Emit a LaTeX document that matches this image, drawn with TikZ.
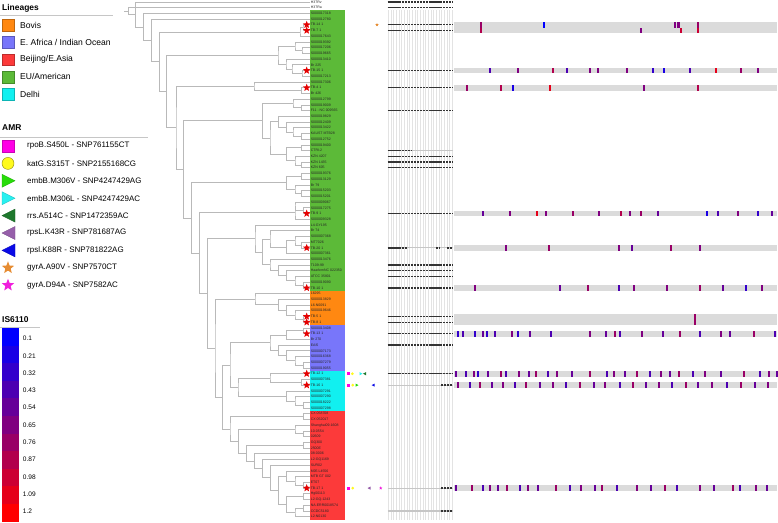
\documentclass[tikz,border=0pt]{standalone}
\usepackage{fontspec}
\setmainfont{Liberation Sans}
\usetikzlibrary{calc,shapes.geometric}

\definecolor{lnBovis}{RGB}{255,136,17}
\definecolor{lnEAfrica}{RGB}{120,118,250}
\definecolor{lnBeijing}{RGB}{252,58,58}
\definecolor{lnEU}{RGB}{92,186,56}
\definecolor{lnDelhi}{RGB}{17,240,240}
\definecolor{amrRpoB}{RGB}{255,0,230}
\definecolor{amrKatG}{RGB}{255,250,30}
\definecolor{amrEmbV}{RGB}{40,220,10}
\definecolor{amrEmbL}{RGB}{40,240,240}
\definecolor{amrRrs}{RGB}{30,120,45}
\definecolor{amrRpsA}{RGB}{150,95,170}
\definecolor{amrRpsB}{RGB}{10,10,230}
\definecolor{amrGyrV}{RGB}{230,140,50}
\definecolor{amrGyrA}{RGB}{240,30,220}
\definecolor{hmbar}{RGB}{219,219,219}

\newcommand{\ry}[1]{1.9+(#1-1)*5.72}
\newcommand{\jn}[4]{%
  \coordinate (mid) at ($(#3)!.5!(#4)$);
  \coordinate (xr) at (#2,0);
  \coordinate (#1) at (mid -| xr);
  \draw[branch] (#3) -| (#1) |- (#4);}
\newcommand{\istick}[3]{\fill[red!#3!blue] ({#1-1.1},{\ry{#2}-2.86}) rectangle ({#1+1.1},{\ry{#2}+2.86});}

\begin{document}
\begin{tikzpicture}[x=0.3mm,y=-0.3mm,
  leaf/.style={anchor=west,inner sep=0.5pt,text=black!85,font=\fontsize{3}{3.5}\selectfont},
  head/.style={anchor=west,inner sep=0pt,font=\bfseries\fontsize{7.2}{8}\selectfont},
  item/.style={anchor=west,inner sep=0pt,font=\fontsize{7.3}{8}\selectfont},
  amritem/.style={anchor=west,inner sep=0pt,font=\fontsize{6.8}{8}\selectfont},
  barlabel/.style={anchor=west,inner sep=0pt,font=\fontsize{5.6}{6}\selectfont},
  rule/.style={draw=gray!45,line width=0.8pt},
  branch/.style={draw=gray!55,line width=0.6pt},
  tbstar/.style={star,star points=5,star point ratio=2.3,fill=red!90!black,inner sep=0pt,minimum size=6.8pt},
  bigstar/.style={star,star points=5,star point ratio=2.3,inner sep=0pt,minimum size=11pt},
  gridcol/.style={draw=gray!22,line width=0.3pt},
  snpbase/.style={draw=gray!45,line width=0.9pt},
  snpmark/.style={draw=black!80,line width=1.1pt,dash pattern=on 1.9pt off 0.6pt}]
\useasboundingbox (0,0) rectangle (778,523);

\node[head] (hLin) at (2,8) {Lineages};
\draw[rule] (0,15) -- (113,15);
\foreach \i/\c/\t in {0/lnBovis/Bovis,1/lnEAfrica/{E. Africa / Indian Ocean},2/lnBeijing/{Beijing/E.Asia},3/lnEU/{EU/American},4/lnDelhi/Delhi}{
  \filldraw[fill=\c,draw=\c!75!black,line width=0.3pt] (2,{25+\i*17.3-5.8}) rectangle (14,{25+\i*17.3+5.8});
  \node[item] (lin\i) at (20,{25+\i*17.3}) {\t};
}

\node[head] (hAmr) at (2,128) {AMR};
\draw[rule] (0,137) -- (148,137);
\filldraw[fill=amrRpoB,draw=amrRpoB!80!black,line width=0.3pt] (2,140) rectangle (14,152);
\filldraw[fill=amrKatG,draw=amrKatG!60!black,line width=0.4pt] (8,163.4) circle (6);
\filldraw[fill=amrEmbV,draw=amrEmbV!80!black,line width=0.3pt] (2,174.3) -- (2,187.3) -- (15,180.8) -- cycle;
\filldraw[fill=amrEmbL,draw=amrEmbL!80!black,line width=0.3pt] (2,191.7) -- (2,204.7) -- (15,198.2) -- cycle;
\filldraw[fill=amrRrs,draw=amrRrs!80!black,line width=0.3pt] (15,209.1) -- (15,222.1) -- (2,215.6) -- cycle;
\filldraw[fill=amrRpsA,draw=amrRpsA!80!black,line width=0.3pt] (15,226.5) -- (15,239.5) -- (2,233) -- cycle;
\filldraw[fill=amrRpsB,draw=amrRpsB!80!black,line width=0.3pt] (15,243.9) -- (15,256.9) -- (2,250.4) -- cycle;
\node[bigstar,fill=amrGyrV] (sV) at (8,267.8) {};
\node[bigstar,fill=amrGyrA] (sA) at (8,285.2) {};
\foreach \k/\t in {0/{rpoB.S450L - SNP761155CT},1/{katG.S315T - SNP2155168CG},2/{embB.M306V - SNP4247429AG},3/{embB.M306L - SNP4247429AC},4/{rrs.A514C - SNP1472359AC},5/{rpsL.K43R - SNP781687AG},6/{rpsl.K88R - SNP781822AG},7/{gyrA.A90V - SNP7570CT},8/{gyrA.D94A - SNP7582AC}}
  \node[amritem] (amr\k) at (27,{146+\k*17.4}) {\t};

\node[head] (hIs) at (2,320) {IS6110};
\draw[rule] (0,327) -- (40,327);
\foreach \k/\v in {0/0.1,1/0.21,2/0.32,3/0.43,4/0.54,5/0.65,6/0.76,7/0.87,8/0.98,9/1.09,10/1.2}{
  \pgfmathtruncatemacro\pc{\k*10}
  \fill[red!\pc!blue] (2,{328+\k*17.61}) rectangle (19.3,{328+(\k+1)*17.61+0.2});
  \node[barlabel] (bar\k) at (22.7,{338.5+\k*17.3}) {\v};
}

\fill[lnEU] (310,{\ry{3}-2.86}) rectangle (345,{\ry{51}+2.86});
\fill[lnBovis] (310,{\ry{52}-2.86}) rectangle (345,{\ry{57}+2.86});
\fill[lnEAfrica] (310,{\ry{58}-2.86}) rectangle (345,{\ry{65}+2.86});
\fill[lnDelhi] (310,{\ry{66}-2.86}) rectangle (345,{\ry{72}+2.86});
\fill[lnBeijing] (310,{\ry{73}-2.86}) rectangle (345,{\ry{91}+2.86});

\foreach \i/\lab in {1/H37Rv,2/H37Ra,3/S000017318,4/S000012780,5/TB-14 1,6/TB-7 1,7/S000017643,8/S000019392,9/S000017206,10/S000019665,
  11/S000013410,12/Br 225,13/TB-15 1,14/S000017213,15/S000017306,16/TB-4 1,17/Br 426,18/S000012799,19/S000019009,20/F11 - NC 009565,
  21/S000019829,22/S000012409,23/S000013422,24/KAUST MTB28,25/S000012752,26/S000019400,27/CTRI-2,28/KZN 4207,29/KZN 1435,30/KZN 605,
  31/S000019376,32/S000013129,33/Br 79,34/S000015203,35/S000015201,36/S000009067,37/S000017275,38/TB-9 1,39/S000009328,40/L4-GY195,
  41/Br 74,42/S000007368,43/MT7026,44/TB-20 1,45/S000007361,46/S000013476,47/T109-99,48/HaarlemNC 022350,49/ATCC 35801,50/S000019090,
  51/TB-10 1,52/16295,53/S000013829,54/L6-N0091,55/S000019646,56/TB-5 1,57/TB-8 1,58/S000013408,59/TB-13 1,60/Br 270,
  61/EAI5,62/S000007173,63/S000016368,64/S000007279,65/S000019055,66/TB-12 1,67/S000007381,68/TB-16 1,69/S000007291,70/S000007290,
  71/S000018222,72/S000007298,73/CX 058708,74/CX 052017,75/Shanghai09-1608,76/10-0554,77/02609,78/GQ300,79/2500E,80/08-0006,
  81/L2-GQ1169,82/SUR02,83/M05 L4556,84/MTB GT 002,85/ET07,86/TB-17 1,87/Hg00113,88/L2-GQ-1243,89/NA-ERR0018574,90/CCDC5180,91/L2-N0130}{
  \coordinate (t\i) at (310,{\ry{\i}});
  \node[leaf] (l\i) at (t\i) {\lab};
}

\jn{c1}{303}{t5}{t6}
\jn{c2}{300}{c1}{t7}
\jn{a1}{302}{t9}{t10}
\jn{a2}{295}{t8}{a1}
\jn{a5}{302}{t13}{t14}
\jn{a6}{292}{t12}{a5}
\jn{a7}{286}{t11}{a6}
\jn{a8}{278}{a2}{a7}
\jn{b1}{301.7}{t16}{t17}
\jn{b2}{254}{t15}{b1}
\jn{k1}{301.7}{t19}{t20}
\jn{k2}{293}{t18}{k1}
\jn{k3}{301.7}{t24}{t25}
\jn{k4}{293}{t23}{k3}
\jn{k5}{286.7}{t22}{k4}
\jn{k6}{278.3}{t21}{k5}
\jn{k7}{301.7}{t26}{t27}
\jn{k8}{301.7}{t29}{t30}
\jn{k9}{295}{t28}{k8}
\jn{k10}{286.7}{k7}{k9}
\jn{k11}{270}{k6}{k10}
\jn{k12}{262.7}{k2}{k11}
\jn{d1}{301.7}{t31}{t32}
\jn{d2}{301.7}{t34}{t35}
\jn{d3}{295}{t33}{d2}
\jn{d4}{286.7}{d1}{d3}
\jn{e1}{303.3}{t37}{t38}
\jn{e2}{295}{t36}{e1}
\jn{e3}{295}{e2}{t39}
\jn{f1}{301.7}{t43}{t44}
\jn{f2}{295}{t42}{f1}
\jn{f3}{286.7}{f2}{t45}
\jn{f4}{270}{t41}{f3}
\jn{g1}{303.3}{t50}{t51}
\jn{g2}{295}{t49}{g1}
\jn{g3}{286.7}{t48}{g2}
\jn{g4}{278.3}{t47}{g3}
\jn{g5}{270}{t46}{g4}
\jn{f5}{262.7}{f4}{g5}
\jn{f6}{255}{t40}{f5}
\jn{o1}{303.3}{t56}{t57}
\jn{o2}{295}{t55}{o1}
\jn{o3}{286.7}{t54}{o2}
\jn{o4}{278.3}{t53}{o3}
\jn{o5}{255}{t52}{o4}
\jn{u1}{303.3}{t58}{t59}
\jn{u2}{286.7}{u1}{t60}
\jn{u3}{303.3}{t64}{t65}
\jn{u4}{295}{t63}{u3}
\jn{u5}{286.7}{t62}{u4}
\jn{u6}{278.3}{t61}{u5}
\jn{u7}{270}{u2}{u6}
\jn{y1}{301.7}{t67}{t68}
\jn{y2}{270}{t66}{y1}
\jn{y3}{303.3}{t71}{t72}
\jn{y4}{295}{t70}{y3}
\jn{y5}{286.7}{t69}{y4}
\jn{y6}{238}{y2}{y5}
\jn{bc}{230}{u7}{y6}
\jn{r1}{303.3}{t73}{t74}
\jn{r2}{303.3}{t76}{t77}
\jn{r3}{295}{t75}{r2}
\jn{r4}{303.3}{t78}{t79}
\jn{r5}{303.3}{t85}{t86}
\jn{r6}{295}{t84}{r5}
\jn{r7}{286.7}{t83}{r6}
\jn{r8}{303.3}{t87}{t88}
\jn{r9}{303.3}{t89}{t90}
\jn{r10}{295}{r9}{t91}
\jn{r11}{286.7}{r8}{r10}
\jn{r12}{278.3}{r7}{r11}
\jn{r13}{270.7}{t82}{r12}
\jn{r14}{262.7}{t81}{r13}
\jn{r15}{254.7}{t80}{r14}
\jn{r16}{246.7}{r4}{r15}
\jn{r17}{238.3}{r3}{r16}
\jn{r18}{230}{r1}{r17}
\jn{s1}{222.7}{bc}{r18}
\jn{s2}{215}{o5}{s1}
\jn{s3}{207.3}{f6}{s2}
\jn{s4}{199.3}{e3}{s3}
\jn{s5}{191.7}{d4}{s4}
\jn{s6}{183.3}{k12}{s5}
\jn{s7}{176}{b2}{s6}
\jn{s8}{166.7}{a8}{s7}
\jn{s9}{159.3}{c2}{s8}
\jn{s10}{151.7}{t4}{s9}
\jn{s11}{143.3}{t3}{s10}
\jn{s12}{135.7}{t1}{s11}
\jn{s13}{128.3}{t2}{s12}
\draw[branch] (s13) -- ++(-4,0);

\foreach \i in {5,6,13,16,38,44,51,56,57,59,66,68,86}
  \node[tbstar] (st\i) at (306.7,{\ry{\i}}) {};

\node[star,star points=5,star point ratio=2.3,fill=amrGyrV,inner sep=0pt,minimum size=3pt] (m5) at (377,{\ry{5}}) {};
\fill[amrRpoB] (347.2,{\ry{66}-1.5}) rectangle ++(3,3);
\fill[amrKatG] (352.3,{\ry{66}}) circle (1.5);
\fill[amrEmbL] (359.5,{\ry{66}-1.6}) -- (359.5,{\ry{66}+1.6}) -- (362.5,{\ry{66}}) -- cycle;
\fill[amrRrs] (366,{\ry{66}-1.6}) -- (366,{\ry{66}+1.6}) -- (363,{\ry{66}}) -- cycle;
\fill[amrRpoB] (347.2,{\ry{68}-1.5}) rectangle ++(3,3);
\fill[amrKatG] (352.7,{\ry{68}}) circle (1.5);
\fill[amrEmbV] (355.5,{\ry{68}-1.6}) -- (355.5,{\ry{68}+1.6}) -- (358.5,{\ry{68}}) -- cycle;
\fill[amrRpsB] (374.7,{\ry{68}-1.6}) -- (374.7,{\ry{68}+1.6}) -- (371.7,{\ry{68}}) -- cycle;
\fill[amrRpoB] (347.2,{\ry{86}-1.5}) rectangle ++(3,3);
\fill[amrKatG] (352.7,{\ry{86}}) circle (1.5);
\fill[amrRpsA] (370.5,{\ry{86}-1.6}) -- (370.5,{\ry{86}+1.6}) -- (367.5,{\ry{86}}) -- cycle;
\node[star,star points=5,star point ratio=2.3,fill=amrGyrA,inner sep=0pt,minimum size=3pt] (m86) at (380.7,{\ry{86}}) {};

\foreach \i in {0,...,24}
  \draw[gridcol] ({388+\i*2.68},10) -- ({388+\i*2.68},520);
\foreach \i in {27,44,66,68,86,90}
  \draw[snpbase] (387.5,{\ry{\i}}) -- (452.5,{\ry{\i}});
\foreach \i in {1,2,5,6,13,16,20,28,29,30,38,47,48,49,51,56,57,59,61,66}
  \draw[snpmark] (387.5,{\ry{\i}}) -- (452.5,{\ry{\i}});
\draw[snpmark] (387.5,{\ry{27}}) -- (411,{\ry{27}});
\draw[snpmark] (387.5,{\ry{44}}) -- (407,{\ry{44}});
\draw[snpmark] (436,{\ry{44}}) -- (440,{\ry{44}}) (447,{\ry{44}}) -- (452.5,{\ry{44}});
\foreach \i in {68,86,90}
  \draw[snpmark] (441,{\ry{\i}}) -- (452.5,{\ry{\i}});

\fill[hmbar] (454,{\ry{5}-2.86}) rectangle (777,{\ry{6}+2.86});
\fill[hmbar] (454,{\ry{56}-2.86}) rectangle (777,{\ry{57}+2.86});
\foreach \i in {13,16,38,44,51,59,66,68,86}
  \fill[hmbar] (454,{\ry{\i}-2.86}) rectangle (777,{\ry{\i}+2.86});

\foreach \x/\c in {481.3/60,544/0,675/50,678.5/50,698/60} {\istick{\x}{5}{\c}}
\foreach \x/\c in {481.3/70,641.3/50,681.3/80,698/80} {\istick{\x}{6}{\c}}
\foreach \x/\c in {490/30,518.3/50,552.7/70,567/30,589.7/50,598.3/50,627/50,652.7/20,664/10,690/30,715.7/90,741.3/60,758.3/50} {\istick{\x}{13}{\c}}
\foreach \x/\c in {467/60,501.3/70,512.7/10,550/90,644.3/50,698/70} {\istick{\x}{16}{\c}}
\foreach \x/\c in {483/40,510/50,537/90,546/50,573/60,599/50,621/70,630/50,641/60,658/40,707/10,718/30,738/50,758/20,772/40} {\istick{\x}{38}{\c}}
\foreach \x/\c in {506/50,549/60,619/50,632/40,671/60,700/50} {\istick{\x}{44}{\c}}
\foreach \x/\c in {475/50,560/40,588/60,619/30,634/50,667/50,700/60,723/40,746/20,762/50} {\istick{\x}{51}{\c}}
\foreach \x/\c in {695/60} {\istick{\x}{56}{\c}\istick{\x}{57}{\c}}
\foreach \x/\c in {458/20,463/30,475/20,483/40,487/20,495/30,512/50,518/20,530/40,551/30,590/50,606/40,615/60,620/30,642/50,663/40,680/60,700/30,721/50,730/40,754/60,775/30} {\istick{\x}{59}{\c}}
\foreach \x/\c in {456/40,466/30,474/50,478/20,488/40,501/60,506/30,519/50,529/40,536/60,548/30,557/50,572/40,590/60,607/30,614/50,625/40,637/60,650/30,661/50,670/40,679/60,693/30,705/50,721/40,744/60,760/30,769/50,777/40} {\istick{\x}{66}{\c}}
\foreach \x/\c in {458/50,470/30,480/60,492/40,503/50,515/30,526/60,540/40,553/50,566/30,580/60,594/40,605/50,620/30,633/60,646/40,659/50,672/30,686/60,698/40,712/50,727/30,741/60,755/40,768/50} {\istick{\x}{68}{\c}}
\foreach \x/\c in {456/40,472/60,483/30,490/50,498/40,507/60,520/30,528/50,538/40,556/60,570/30,581/50,595/40,602/60,617/30,637/50,651/40,665/60,677/30,700/50,714/40,733/60,740/30,756/50,767/40} {\istick{\x}{86}{\c}}
\end{tikzpicture}
\end{document}
